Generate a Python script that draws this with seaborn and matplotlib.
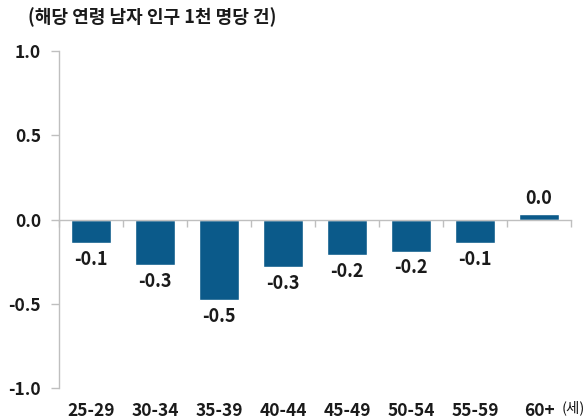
import matplotlib
matplotlib.use("Agg")
import matplotlib.pyplot as plt
import seaborn as sns
import pandas as pd

# Age groups and change per 1,000 men of that age
age_groups = ["25-29", "30-34", "35-39", "40-44", "45-49", "50-54", "55-59", "60+"]
values = [-0.14, -0.27, -0.48, -0.28, -0.21, -0.19, -0.14, 0.03]
y_ticks = [-1.0, -0.5, 0.0, 0.5, 1.0]

title_text = "(해당 연령 남자 인구 1천 명당 건)"
unit_text = "(세)"

sns.set_theme(style="white")
plt.rcParams["font.family"] = ["Noto Sans CJK KR", "DejaVu Sans"]
plt.rcParams["axes.unicode_minus"] = False

bar_color = "#0B5A8A"
axis_gray = "#BFBFBF"

df = pd.DataFrame({"age": age_groups, "value": values})

fig = plt.figure(figsize=(5.86, 4.20), dpi=100)
ax = fig.add_axes([59 / 586, 1 - 388 / 420, (571 - 59) / 586, (388 - 51) / 420])

sns.barplot(data=df, x="age", y="value", color=bar_color, width=0.625,
            saturation=1, ax=ax)

ax.set_xlim(-0.5, len(age_groups) - 0.5)
ax.set_ylim(-1.0, 1.0)
ax.set_xlabel("")
ax.set_ylabel("")

# value labels
for container in ax.containers:
    ax.bar_label(container, fmt="{:.1f}", padding=5, fontsize=13,
                 fontweight="bold", color="#1a1a1a")

# y axis
ax.set_yticks(y_ticks)
ax.set_yticklabels([f"{v:.1f}" for v in y_ticks], fontsize=12.5,
                   fontweight="bold", color="#1a1a1a")
ax.tick_params(axis="y", which="major", left=True, length=6, width=1,
               color=axis_gray, pad=7, direction="out")

# x axis line at zero, with separators between categories
for side in ["top", "right"]:
    ax.spines[side].set_visible(False)
ax.spines["left"].set_color(axis_gray)
ax.spines["left"].set_linewidth(1)
ax.spines["bottom"].set_position(("data", 0))
ax.spines["bottom"].set_color(axis_gray)
ax.spines["bottom"].set_linewidth(1)
ax.set_xticks([i + 0.5 for i in range(-1, len(age_groups))], minor=True)
ax.tick_params(axis="x", which="minor", bottom=True, length=5, width=1,
               color=axis_gray, direction="out")
ax.tick_params(axis="x", which="major", bottom=False, labelbottom=False)

# category labels along the bottom
sec = ax.secondary_xaxis("bottom")
sec.set_xticks(range(len(age_groups)))
sec.set_xticklabels(age_groups, fontsize=12.5, fontweight="bold", color="#1a1a1a")
sec.tick_params(axis="x", length=0, pad=10)
sec.spines["bottom"].set_visible(False)

# unit label next to the last category
ax.annotate(unit_text, xy=(len(age_groups) - 1, 0), xycoords=("data", "axes fraction"),
            xytext=(16, -14), textcoords="offset points", fontsize=10.5,
            color="#1a1a1a", va="center", ha="left")

fig.text(28 / 586, 1 - 17 / 420, title_text, fontsize=13, fontweight="bold",
         color="#1a1a1a", ha="left", va="center")

fig.savefig("out.png", dpi=100, facecolor="white")
